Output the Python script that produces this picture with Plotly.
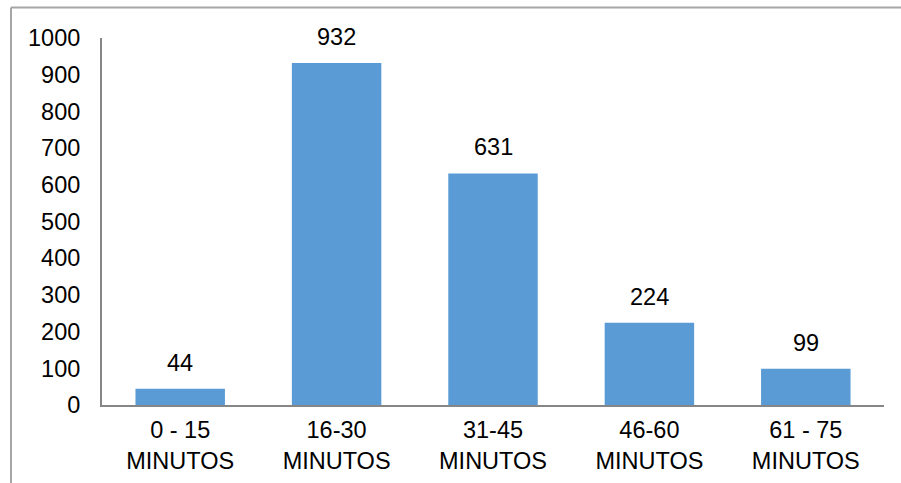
import plotly.graph_objects as go

categories = ["0 - 15<br>MINUTOS", "16-30<br>MINUTOS", "31-45<br>MINUTOS", "46-60<br>MINUTOS", "61 - 75<br>MINUTOS"]
values = [44, 932, 631, 224, 99]
y_ticks = [0, 100, 200, 300, 400, 500, 600, 700, 800, 900, 1000]

FONT = "Liberation Sans, Arial, sans-serif"
FS = 23.5
W, H = 901, 483
ML, MR, MT, MB = 102, 17, 38, 78
pw, ph = W - ML - MR, H - MT - MB

fig = go.Figure()
fig.add_trace(go.Bar(
    x=list(range(len(categories))), y=values,
    marker=dict(color="#5B9BD5", line=dict(width=0)),
    hoverinfo="skip",
))

for i, v in enumerate(values):
    fig.add_annotation(x=i, y=v, text=str(v), showarrow=False,
                       yanchor="middle", yshift=26,
                       font=dict(size=FS, color="#000000", family=FONT))

# outer chart border (top and left visible)
bx = (11 - ML) / pw
by = 1 + (MT - 7.5) / ph
fig.add_shape(type="line", xref="paper", yref="paper",
              x0=bx, x1=(W - ML) / pw + 0.01, y0=by, y1=by,
              line=dict(color="#A6A6A6", width=2))
fig.add_shape(type="line", xref="paper", yref="paper",
              x0=bx, x1=bx, y0=-(MB + 10) / ph, y1=by,
              line=dict(color="#A6A6A6", width=2))

fig.update_layout(
    width=W, height=H,
    margin=dict(l=ML, r=MR, t=MT, b=MB),
    paper_bgcolor="white", plot_bgcolor="white",
    showlegend=False,
    bargap=0.428,
    font=dict(family=FONT, size=FS, color="#000000"),
    xaxis=dict(
        range=[-0.5, 4.5], automargin=False,
        tickmode="array", tickvals=list(range(len(categories))), ticktext=categories,
        showline=True, linecolor="#868686", linewidth=2,
        showgrid=False, zeroline=False, ticks="",
        ticklabelstandoff=3,
        tickfont=dict(size=FS, family=FONT),
    ),
    yaxis=dict(
        range=[0, 1000], automargin=False,
        tickmode="array", tickvals=y_ticks,
        showline=True, linecolor="#868686", linewidth=2,
        showgrid=False, zeroline=False, ticks="",
        ticklabelstandoff=15,
        tickfont=dict(size=FS, family=FONT),
    ),
)

fig.write_html("out.html")
